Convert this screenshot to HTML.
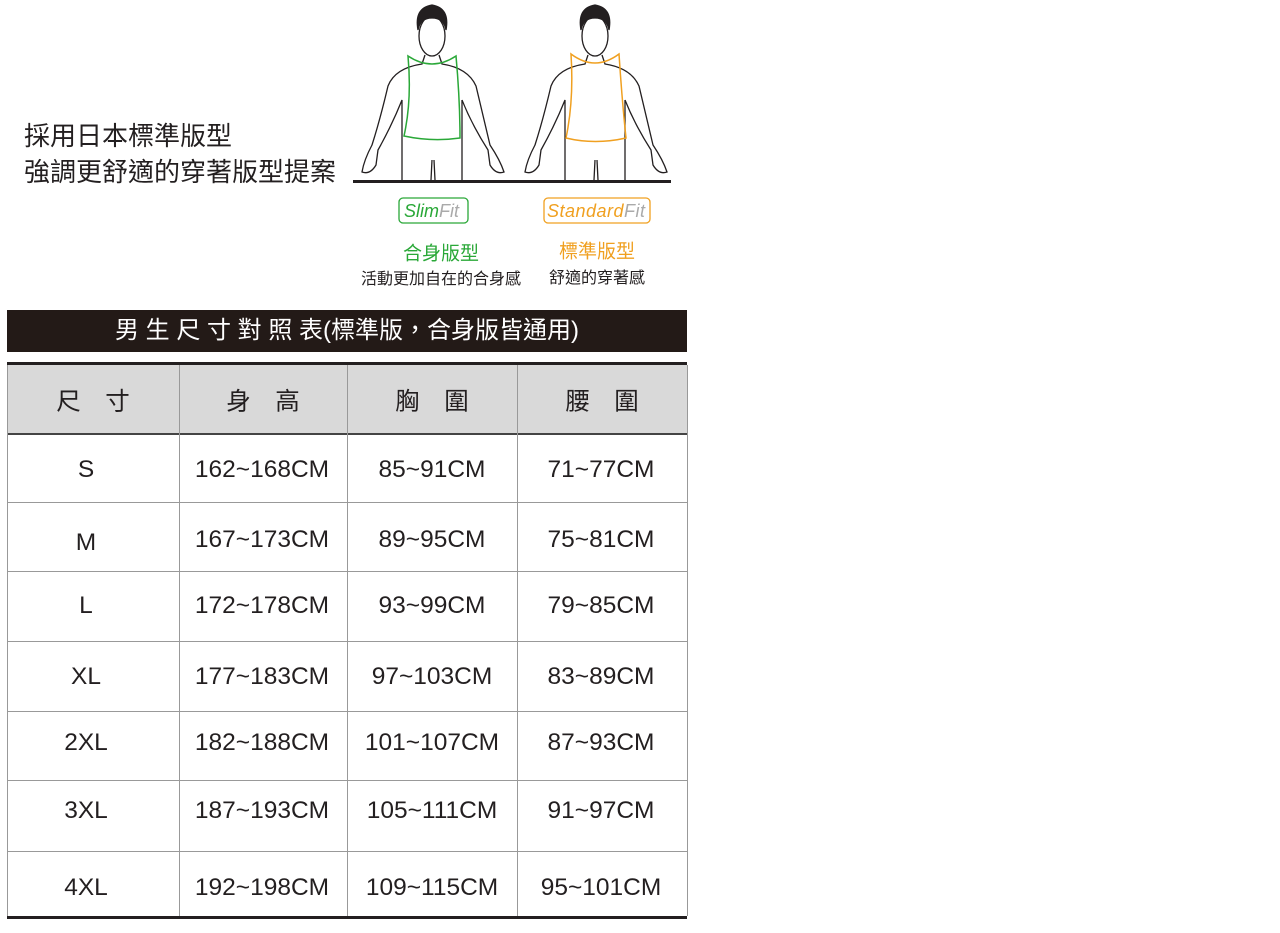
<!DOCTYPE html>
<html><head><meta charset="utf-8"><style>
body{margin:0;width:1280px;height:933px;background:#fff;position:relative;font-family:"Liberation Sans","Noto Sans CJK TC",sans-serif;overflow:hidden}
.a{position:absolute}
.t{position:absolute;font-size:24.5px;color:#231f20;transform:translate(-50%,-50%);white-space:nowrap}
</style></head><body>
<div class="a" style="left:24px;top:118px;font-size:26px;line-height:36px;color:#231f20">採用日本標準版型<br>強調更舒適的穿著版型提案</div>
<svg class="a" style="left:0;top:0" width="700" height="300">
<g fill="none" stroke="#231f20" stroke-width="1.3">
<g id="p">
<ellipse cx="432" cy="36" rx="13" ry="20" fill="#fff"/>
<path d="M418 30 Q414 8 432 5 Q450 8 446 30 Q444 18 432 18 Q420 18 418 30Z" fill="#231f20"/>
<path d="M425 55 L422 64 Q395 68 388 86 Q380 120 372 145 Q364 160 362 172 Q370 175 376 165 L378 150 Q392 125 402 100 L402 180 M462 100 Q472 125 488 150 L490 165 Q496 175 504 172 Q500 160 490 145 Q484 120 476 86 Q468 68 442 64 L439 55"/>
<path d="M462 100 L462 180 M432 160 L431 180 M434 160 L435 180"/>
</g>
<use href="#p" transform="translate(163,0)"/>
</g>
<path d="M408 56 Q432 72 456 56 Q460 100 460 138 Q432 142 404 136 Q412 100 408 56Z" fill="none" stroke="#2aa838" stroke-width="1.5"/>
<path d="M571 54 Q595 72 619 54 Q622 100 626 138 Q595 145 566 138 Q574 100 571 54Z" fill="none" stroke="#f0a020" stroke-width="1.5"/>
<rect x="353" y="180" width="318" height="3" fill="#231f20"/>
<rect x="399" y="198" width="69" height="25" rx="4" fill="none" stroke="#2aa838" stroke-width="1.3"/>
<rect x="544" y="198" width="106" height="25" rx="4" fill="none" stroke="#f0a020" stroke-width="1.3"/>
<text x="404" y="217" font-size="18" font-style="italic" fill="#2aa838" font-family="Liberation Sans">Slim<tspan fill="#aaa">Fit</tspan></text>
<text x="547" y="217" font-size="18" font-style="italic" fill="#f0a020" font-family="Liberation Sans" textLength="98">Standard<tspan fill="#aaa">Fit</tspan></text>
</svg>
<div class="t" style="left:441px;top:252px;font-size:19px;color:#2aa838">合身版型</div>
<div class="t" style="left:597px;top:250px;font-size:19px;color:#f0a020">標準版型</div>
<div class="t" style="left:441px;top:277px;font-size:16px">活動更加自在的合身感</div>
<div class="t" style="left:597px;top:276px;font-size:16px">舒適的穿著感</div>
<div class="a" style="left:7px;top:310px;width:680px;height:42px;background:#231a17;color:#fff;font-size:24px;line-height:42px;text-align:center">男 生 尺 寸 對 照 表(標準版，合身版皆通用)</div>
<div class="a" style="left:7px;top:362px;width:680px;height:68px;background:#d9d9d9;border-top:3px solid #231f20;border-bottom:2px solid #444"></div>
<div class="a" style="left:7px;top:916px;width:680px;height:3px;background:#231f20"></div>
<svg class="a" style="left:0;top:0" width="700" height="933">
<g stroke="#999" stroke-width="1">
<line x1="7.5" y1="365" x2="7.5" y2="916"/><line x1="179.5" y1="365" x2="179.5" y2="916"/><line x1="347.5" y1="365" x2="347.5" y2="916"/><line x1="517.5" y1="365" x2="517.5" y2="916"/><line x1="687.5" y1="365" x2="687.5" y2="916"/>
<line x1="7" y1="502.5" x2="687" y2="502.5"/><line x1="7" y1="571.5" x2="687" y2="571.5"/><line x1="7" y1="641.5" x2="687" y2="641.5"/><line x1="7" y1="711.5" x2="687" y2="711.5"/><line x1="7" y1="780.5" x2="687" y2="780.5"/><line x1="7" y1="851.5" x2="687" y2="851.5"/>
</g></svg>
<div class="t" style="left:93px;top:400px">尺　寸</div><div class="t" style="left:263px;top:400px">身　高</div><div class="t" style="left:432px;top:400px">胸　圍</div><div class="t" style="left:602px;top:400px">腰　圍</div>
<div class="t" style="left:86px;top:470px">S</div><div class="t" style="left:262px;top:470px">162~168CM</div><div class="t" style="left:432px;top:470px">85~91CM</div><div class="t" style="left:601px;top:470px">71~77CM</div>
<div class="t" style="left:86px;top:543px">M</div><div class="t" style="left:262px;top:540px">167~173CM</div><div class="t" style="left:432px;top:540px">89~95CM</div><div class="t" style="left:601px;top:540px">75~81CM</div>
<div class="t" style="left:86px;top:606px">L</div><div class="t" style="left:262px;top:606px">172~178CM</div><div class="t" style="left:432px;top:606px">93~99CM</div><div class="t" style="left:601px;top:606px">79~85CM</div>
<div class="t" style="left:86px;top:677px">XL</div><div class="t" style="left:262px;top:677px">177~183CM</div><div class="t" style="left:432px;top:677px">97~103CM</div><div class="t" style="left:601px;top:677px">83~89CM</div>
<div class="t" style="left:86px;top:743px">2XL</div><div class="t" style="left:262px;top:743px">182~188CM</div><div class="t" style="left:432px;top:743px">101~107CM</div><div class="t" style="left:601px;top:743px">87~93CM</div>
<div class="t" style="left:86px;top:811px">3XL</div><div class="t" style="left:262px;top:811px">187~193CM</div><div class="t" style="left:432px;top:811px">105~111CM</div><div class="t" style="left:601px;top:811px">91~97CM</div>
<div class="t" style="left:86px;top:888px">4XL</div><div class="t" style="left:262px;top:888px">192~198CM</div><div class="t" style="left:432px;top:888px">109~115CM</div><div class="t" style="left:601px;top:888px">95~101CM</div>
</body></html>
